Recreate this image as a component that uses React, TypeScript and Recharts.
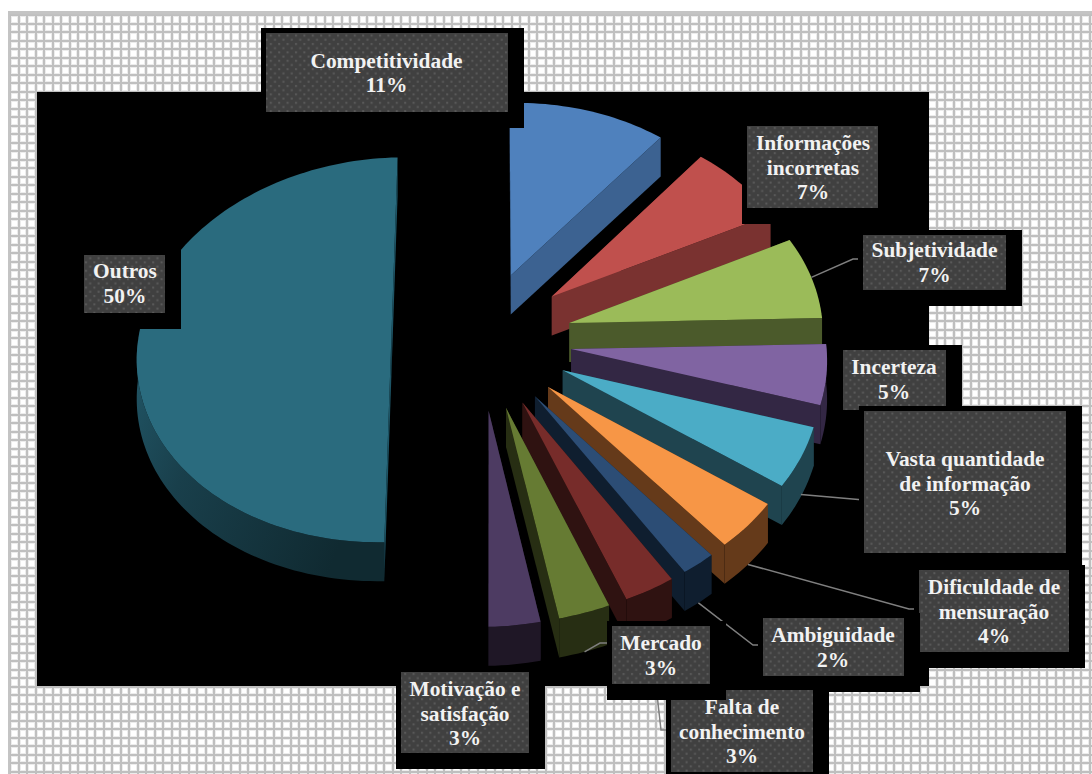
import React from "react";
import { PieChart, Pie } from "recharts";

const WIDTH = 1092;
const HEIGHT = 774;

// Survey categories, clockwise from twelve o'clock.
const categories = [
  "Competitividade",
  "Informações incorretas",
  "Subjetividade",
  "Incerteza",
  "Vasta quantidade de informação",
  "Dificuldade de mensuração",
  "Ambiguidade",
  "Falta de conhecimento",
  "Mercado",
  "Motivação e satisfação",
  "Outros",
];
const shares = [11, 7, 7, 5, 5, 4, 2, 3, 3, 3, 50];

const topColors = [
  "#4f81bd", "#c0504d", "#9bbb59", "#8064a2", "#4bacc6", "#f79646",
  "#2c4d75", "#772c2a", "#667b33", "#4d3b62", "#2a6b7e",
];
const wallColors = [
  "#3c6291", "#7a3230", "#4b5a2b", "#332744", "#1f444f", "#653a1a",
  "#0f1e2f", "#2f1211", "#272e13", "#1f1726", "#1d5566",
];

const rows = categories.map((name, i) => ({
  name,
  value: shares[i],
  fill: topColors[i],
  wall: wallColors[i],
}));

// Placement of each callout: grey box, wrapped text, and the leader's route.
type Callout = {
  box: [number, number, number, number];
  lines: string[];
  textX: number;
  baseline: number;
  drop?: number;
  route?: [number, number][];
};
const callouts: Callout[] = [
  { box: [266, 33, 508, 112], lines: ["Competitividade"], textX: 386.5, baseline: 67.5 },
  { box: [747, 126, 878, 208], lines: ["Informações", "incorretas"], textX: 813, baseline: 150 },
  { box: [863, 235, 1006, 290], lines: ["Subjetividade"], textX: 934.5, baseline: 257, drop: 0, route: [[853, 259], [863, 259]] },
  { box: [843, 350, 946, 410], lines: ["Incerteza"], textX: 894, baseline: 374 },
  { box: [864, 411, 1066, 553], lines: ["Vasta quantidade", "de informação"], textX: 965, baseline: 466, drop: 0.95, route: [[864, 500]] },
  { box: [919, 570, 1069, 652], lines: ["Dificuldade de", "mensuração"], textX: 994, baseline: 594, drop: 1, route: [[909, 609], [919, 609]] },
  { box: [763, 618, 904, 676], lines: ["Ambiguidade"], textX: 833, baseline: 642, drop: 1, route: [[753, 645], [763, 645]] },
  { box: [671, 690, 813, 772], lines: ["Falta de", "conhecimento"], textX: 742, baseline: 714, drop: 1, route: [[661, 730], [671, 730]] },
  { box: [612, 626, 710, 684], lines: ["Mercado"], textX: 661, baseline: 650, drop: 1, route: [[600, 643], [612, 643]] },
  { box: [401, 672, 529, 753], lines: ["Motivação e", "satisfação"], textX: 465, baseline: 696 },
  { box: [84, 255, 165, 313], lines: ["Outros"], textX: 125, baseline: 278 },
];

// 3-D look of the pie: tilt, roll, perspective, slice separation and thickness.
const PIE_X = 480;
const PIE_Y = 340;
const RADIUS = 254;
const TILT = 0.756;
const ROLL = 0.02;
const SHEAR = 0.004;
const PERSPECTIVE = 0.00026;
const EXPLODE = 92;
const LEFT_HALF_EXPLODE = 89;
const LEFT_HALF_BEARING = 274;
const THICKNESS = 39;

type Pt = [number, number];

// Ground-plane position (u right, v away from viewer) to screen position.
function project(cx: number, cy: number, u: number, v: number): Pt {
  const s = 1 / (1 + PERSPECTIVE * v);
  const dx = u * s;
  const dy = -TILT * v * s;
  return [cx + dx - SHEAR * dy, cy + dy - ROLL * dx];
}

// Clock angle in degrees, zero at the top and increasing clockwise.
function planePoint(deg: number, r: number): Pt {
  const a = (deg * Math.PI) / 180;
  return [r * Math.sin(a), r * Math.cos(a)];
}

// The half-pie slice is pulled out a little less than the narrow ones.
function apexOf(mid: number): Pt {
  return mid > 200 ? planePoint(LEFT_HALF_BEARING, LEFT_HALF_EXPLODE) : planePoint(mid, EXPLODE);
}

function rimPoint(cx: number, cy: number, r: number, mid: number, deg: number): Pt {
  const [ax, ay] = apexOf(mid);
  const [px, py] = planePoint(deg, r);
  return project(cx, cy, ax + px, ay + py);
}

function arc(cx: number, cy: number, r: number, mid: number, from: number, to: number): Pt[] {
  const n = Math.max(2, Math.ceil(Math.abs(to - from) / 1.5));
  const out: Pt[] = [];
  for (let i = 0; i <= n; i++) {
    out.push(rimPoint(cx, cy, r, mid, from + ((to - from) * i) / n));
  }
  return out;
}

const toPath = (pts: Pt[]) =>
  "M" + pts.map(([x, y]) => `${x.toFixed(2)},${y.toFixed(2)}`).join("L") + "Z";
const lowered = (pts: Pt[]): Pt[] => pts.map(([x, y]) => [x, y + THICKNESS]);

// Draws one slice as a solid wedge from the angles the Pie computed.
function SolidSlice(props: any) {
  const { cx, cy, outerRadius, startAngle, endAngle, fill, payload } = props;
  const from = 90 - startAngle;
  const to = 90 - endAngle;
  const mid = (from + to) / 2;
  const [au, av] = apexOf(mid);
  const apex = project(cx, cy, au, av);
  const edge = arc(cx, cy, outerRadius, mid, from, to);
  const first = edge[0];
  const last = edge[edge.length - 1];
  const wall = payload?.wall ?? props.wall;
  const isLarge = to - from > 100;
  const rimFrom = Math.max(from, 90);
  const rimTo = Math.min(to, 270);
  const rim = rimTo > rimFrom ? arc(cx, cy, outerRadius, mid, rimFrom, rimTo) : [];
  return (
    <g>
      <path d={toPath([apex, first, ...lowered([first, apex])])} fill={wall} />
      <path d={toPath([apex, last, ...lowered([last, apex])])} fill={wall} />
      {rim.length > 0 && (
        <path
          d={toPath([...rim, ...lowered(rim).reverse()])}
          fill={isLarge ? "url(#outerRim)" : wall}
        />
      )}
      <path d={toPath([apex, ...edge])} fill={fill} />
    </g>
  );
}

// Leader line, black backing, dotted grey box and centred text of one callout.
function CalloutLabel(props: any) {
  const { index, cx, cy, outerRadius, startAngle, endAngle, value } = props;
  const c = callouts[index];
  if (!c) return null;
  const [x0, y0, x1, y1] = c.box;
  const text = [...c.lines, `${value}%`];
  let leader: Pt[] | null = null;
  if (c.route) {
    const midClock = 90 - (props.midAngle ?? (startAngle + endAngle) / 2);
    const start = rimPoint(cx, cy, outerRadius, midClock, midClock);
    leader = [[start[0], start[1] + (c.drop ?? 0) * THICKNESS], ...c.route];
  }
  return (
    <g>
      {leader && (
        <polyline
          points={leader.map((p) => p.join(",")).join(" ")}
          fill="none"
          stroke="#7f7f7f"
          strokeWidth={1.5}
        />
      )}
      <rect x={x0 - 5} y={y0 - 5} width={x1 - x0 + 21} height={y1 - y0 + 21} fill="#000" />
      <rect x={x0} y={y0} width={x1 - x0} height={y1 - y0} fill="url(#calloutDots)" />
      {text.map((line, i) => (
        <text
          key={i}
          x={c.textX}
          y={c.baseline + i * 24.5}
          textAnchor="middle"
          fontFamily="'Liberation Serif', serif"
          fontWeight={700}
          fontSize={21.4}
          fill="#f2f2f2"
        >
          {line}
        </text>
      ))}
    </g>
  );
}

// Sheet behind the chart: ruled squares at an 8.5px pitch, snapped to whole pixels.
const GRID_X0 = 9;
const GRID_Y0 = 14;
const GRID_PITCH = 8.5;

function gridPaths() {
  let dark = "";
  let light = "";
  const bar = (x: number, y: number, w: number, h: number) =>
    `M${x},${y}H${x + w}V${y + h}H${x}Z`;
  for (let k = 0; GRID_X0 + k * GRID_PITCH < WIDTH; k++) {
    const x = Math.round(GRID_X0 + k * GRID_PITCH);
    dark += bar(x, GRID_Y0, 2, HEIGHT - GRID_Y0);
    light += bar(x - 1, GRID_Y0, 4, HEIGHT - GRID_Y0);
  }
  for (let k = 0; GRID_Y0 + k * GRID_PITCH < HEIGHT; k++) {
    const y = Math.round(GRID_Y0 + k * GRID_PITCH);
    dark += bar(GRID_X0, y, WIDTH - GRID_X0, 2);
    light += bar(GRID_X0, y - 1, WIDTH - GRID_X0, 4);
  }
  return { dark, light };
}

export default function App() {
  const grid = gridPaths();
  return (
    <div style={{ position: "absolute", left: 0, top: 0, width: WIDTH, height: HEIGHT, background: "#fff" }}>
      <PieChart width={WIDTH} height={HEIGHT} margin={{ top: 0, right: 0, bottom: 0, left: 0 }}>
        <defs>
          <pattern id="calloutDots" x={0} y={0} width={8.4} height={8.4} patternUnits="userSpaceOnUse">
            <rect width={8.4} height={8.4} fill="#404040" />
            <rect x={1} y={1} width={2} height={2} fill="#5a5a5a" />
            <rect x={5.2} y={5.2} width={2} height={2} fill="#5a5a5a" />
          </pattern>
          <linearGradient id="outerRim" x1="0" y1="0" x2="1" y2="0.4">
            <stop offset="0" stopColor="#215666" />
            <stop offset="0.35" stopColor="#193f4b" />
            <stop offset="1" stopColor="#102a31" />
          </linearGradient>
        </defs>
        <path d={grid.light} fill="#ececec" shapeRendering="crispEdges" />
        <path d={grid.dark} fill="#bfbfbf" shapeRendering="crispEdges" />
        <rect x={8} y={11} width={WIDTH - 8} height={3.5} fill="#c4c4c4" />
        <rect x={8} y={11} width={2} height={HEIGHT - 11} fill="#c4c4c4" />
        <rect x={37} y={92} width={892} height={594} fill="#000" />
        <Pie
          data={rows}
          dataKey="value"
          nameKey="name"
          cx={PIE_X}
          cy={PIE_Y}
          innerRadius={0}
          outerRadius={RADIUS}
          startAngle={90}
          endAngle={-270}
          stroke="none"
          paddingAngle={0}
          isAnimationActive={false}
          shape={SolidSlice}
          label={CalloutLabel}
          labelLine={false}
        />
      </PieChart>
    </div>
  );
}
